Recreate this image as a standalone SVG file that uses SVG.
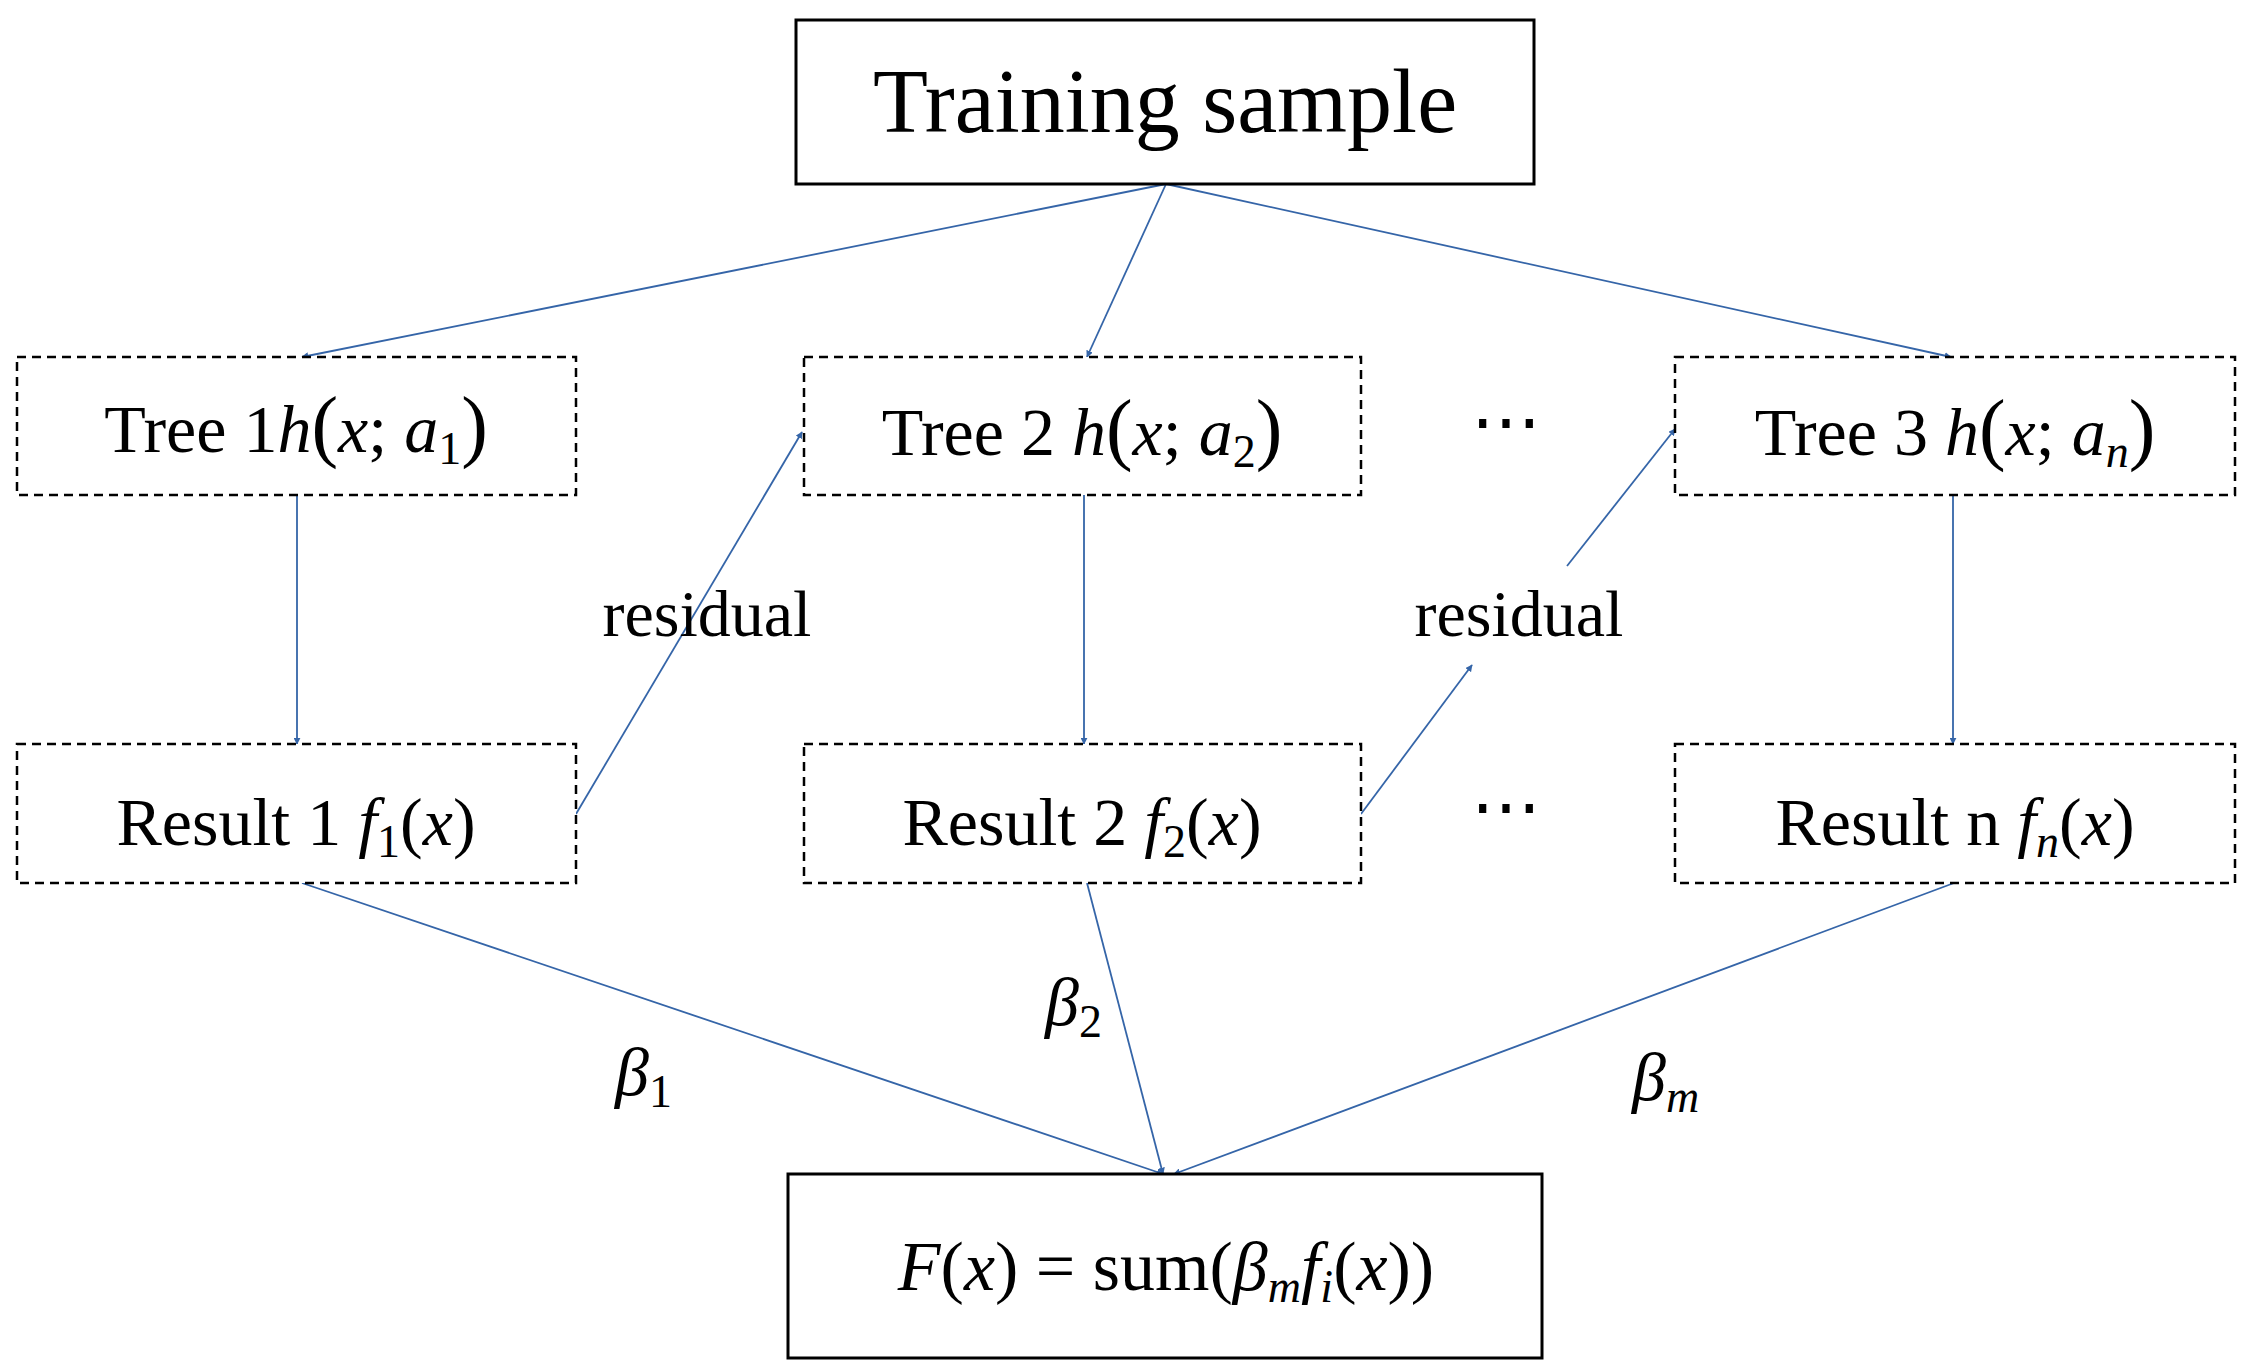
<svg xmlns="http://www.w3.org/2000/svg" width="2247" height="1367" viewBox="0 0 2247 1367">
<defs>
<marker id="ah" viewBox="0 0 10 10" refX="9" refY="5" markerWidth="7" markerHeight="7" markerUnits="userSpaceOnUse" orient="auto"><path d="M0,0 L10,5 L0,10 z" fill="#3565a8"/></marker>
<style>
.t{font-family:"Liberation Serif","Times New Roman",serif;fill:#000}
.i{font-style:italic}
.solid{fill:#fff;stroke:#000;stroke-width:3}
.dash{fill:#fff;stroke:#000;stroke-width:2.5;stroke-dasharray:9 6}
.c{stroke:#3565a8;stroke-width:1.8;fill:none;marker-end:url(#ah)}
.n{stroke:#3565a8;stroke-width:1.8;fill:none}
</style>
</defs>
<rect width="2247" height="1367" fill="#fff"/>
<g id="connectors">
<line class="c" x1="1166" y1="184" x2="302" y2="357"/>
<line class="c" x1="1166" y1="184" x2="1087" y2="357"/>
<line class="c" x1="1166" y1="184" x2="1951" y2="357"/>
<line class="c" x1="297" y1="495" x2="297" y2="744"/>
<line class="c" x1="1084" y1="495" x2="1084" y2="744"/>
<line class="c" x1="1953" y1="495" x2="1953" y2="744"/>
<line class="c" x1="576" y1="814" x2="802" y2="432"/>
<line class="c" x1="1361" y1="814" x2="1472" y2="665"/>
<line class="c" x1="1567" y1="566" x2="1675" y2="429"/>
<line class="c" x1="302" y1="883" x2="1163" y2="1174"/>
<line class="c" x1="1087" y1="883" x2="1163" y2="1174"/>
<line class="c" x1="1954" y1="883" x2="1174" y2="1174"/>
</g>
<g id="training"><rect class="solid" x="796" y="20" width="738" height="164"/><text class="t" x="1165" y="132" font-size="90" text-anchor="middle">Training sample</text></g>
<g id="tree1"><rect class="dash" x="17" y="357" width="559" height="138"/><text class="t" x="296" y="452" font-size="68" text-anchor="middle">Tree 1<tspan class="i">h</tspan><tspan font-size="80">(</tspan><tspan class="i">x</tspan>; <tspan class="i">a</tspan><tspan font-size="46" dy="12">1</tspan><tspan font-size="80" dy="-12">)</tspan></text></g>
<g id="tree2"><rect class="dash" x="804" y="357" width="557" height="138"/><text class="t" x="1082" y="455" font-size="68" text-anchor="middle">Tree 2 <tspan class="i">h</tspan><tspan font-size="80">(</tspan><tspan class="i">x</tspan>; <tspan class="i">a</tspan><tspan font-size="46" dy="12">2</tspan><tspan font-size="80" dy="-12">)</tspan></text></g>
<g id="tree3"><rect class="dash" x="1675" y="357" width="560" height="138"/><text class="t" x="1955" y="455" font-size="68" text-anchor="middle">Tree 3 <tspan class="i">h</tspan><tspan font-size="80">(</tspan><tspan class="i">x</tspan>; <tspan class="i">a</tspan><tspan class="i" font-size="46" dy="12">n</tspan><tspan font-size="80" dy="-12">)</tspan></text></g>
<g id="result1"><rect class="dash" x="17" y="744" width="559" height="139"/><text class="t" x="296" y="845" font-size="68" text-anchor="middle">Result 1 <tspan class="i">f</tspan><tspan font-size="46" dy="12">1</tspan><tspan dy="-12">(</tspan><tspan class="i">x</tspan>)</text></g>
<g id="result2"><rect class="dash" x="804" y="744" width="557" height="139"/><text class="t" x="1082" y="845" font-size="68" text-anchor="middle">Result 2 <tspan class="i">f</tspan><tspan font-size="46" dy="12">2</tspan><tspan dy="-12">(</tspan><tspan class="i">x</tspan>)</text></g>
<g id="resultn"><rect class="dash" x="1675" y="744" width="560" height="139"/><text class="t" x="1955" y="845" font-size="68" text-anchor="middle">Result n <tspan class="i">f</tspan><tspan class="i" font-size="46" dy="12">n</tspan><tspan dy="-12">(</tspan><tspan class="i">x</tspan>)</text></g>
<g id="sum"><rect class="solid" x="788" y="1174" width="754" height="184"/><text class="t" x="1166" y="1290" font-size="70" text-anchor="middle"><tspan class="i">F</tspan>(<tspan class="i">x</tspan>) = sum(<tspan class="i">β</tspan><tspan class="i" font-size="46" dy="12">m</tspan><tspan class="i" dy="-12">f</tspan><tspan class="i" font-size="46" dy="12">i</tspan><tspan dy="-12">(</tspan><tspan class="i">x</tspan>))</text></g>
<g id="labels">
<text class="t" x="707" y="636" font-size="66" text-anchor="middle">residual</text>
<text class="t" x="1519" y="636" font-size="66" text-anchor="middle">residual</text>
<text class="t" x="1506" y="445" font-size="70" text-anchor="middle">⋯</text>
<text class="t" x="1506" y="830" font-size="70" text-anchor="middle">⋯</text>
<text class="t i" x="615" y="1095" font-size="68">β<tspan font-style="normal" font-size="46" dy="12">1</tspan></text>
<text class="t i" x="1045" y="1025" font-size="68">β<tspan font-style="normal" font-size="46" dy="12">2</tspan></text>
<text class="t i" x="1632" y="1100" font-size="68">β<tspan font-size="46" dy="12">m</tspan></text>
</g>
</svg>
